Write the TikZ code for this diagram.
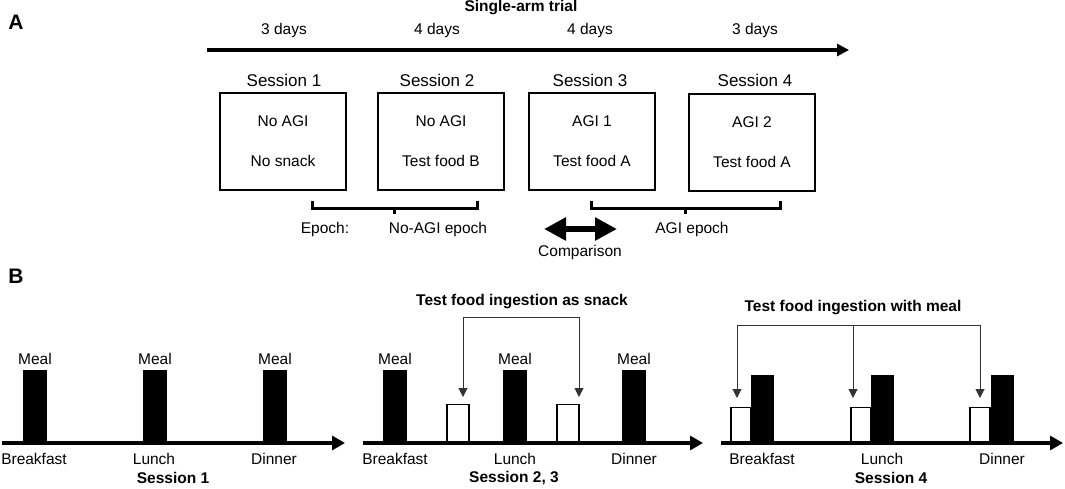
\documentclass[tikz,border=0pt]{standalone}
\usepackage{fontspec}
\setmainfont{Liberation Sans}
\usetikzlibrary{arrows.meta}
\tikzset{
  txt/.style={inner sep=0pt, font=\fontsize{15.5}{18}\selectfont},
  boldtxt/.style={inner sep=0pt, font=\fontsize{15.5}{18}\selectfont\bfseries},
  panel/.style={inner sep=0pt, font=\fontsize{21}{24}\selectfont\bfseries},
  sesslbl/.style={inner sep=0pt, font=\fontsize{17}{20}\selectfont},
  sessbox/.style={draw, line width=1.2pt, minimum width=126pt, minimum height=97pt,
    inner sep=0pt, align=center, font=\fontsize{15.5}{18}\selectfont},
  bracket/.style={line width=3pt},
  timeline/.style={line width=3.5pt, -{Triangle[length=12pt,width=12pt]}},
  dayline/.style={line width=3.5pt, -{Triangle[length=13pt,width=14pt]}},
  mealbar/.style={draw, fill=black, line width=1pt, minimum width=23pt, inner sep=0pt, anchor=south},
  snackbox/.style={draw, fill=white, line width=1.5pt, minimum width=22pt, inner sep=0pt, anchor=south},
  pointer/.style={draw=black!80, line width=1pt, -{Triangle[length=9pt,width=9pt]}}
}
\begin{document}
\begin{tikzpicture}[x=1pt,y=-1pt]
    \useasboundingbox (0,0) rectangle (1065,488);
    % Panel A
    \node[panel] (pa) at (16,22) {A};
    \node[boldtxt] (trial) at (521,8) {Single-arm trial};
    \coordinate (tstart) at (207,50);
    \coordinate (tend) at (849,50);
    \draw[timeline] (tstart) -- (tend);
    \foreach \x/\d/\n in {284/3/1,437/4/2,590/4/3,755/3/4} {
      \node[txt] (day\n) at (\x,30) {\d\ days};
      \node[sesslbl] (lbl\n) at (\x,80) {Session \n};
    }
    % Sessions
    \node[sessbox] (s1) at (283,141.5) {No AGI\\[22pt]No snack};
    \node[sessbox] (s2) at (441,141.5) {No AGI\\[22pt]Test food B};
    \node[sessbox] (s3) at (592,141.5) {AGI 1\\[22pt]Test food A};
    \node[sessbox] (s4) at (752,142.5) {AGI 2\\[22pt]Test food A};
    % Epochs
    \coordinate (e1l) at (312,201);
    \coordinate (e1r) at (477,201);
    \coordinate (e1m) at (394,208);
    \coordinate (e2l) at (591,201);
    \coordinate (e2r) at (780,201);
    \coordinate (e2m) at (685,208);
    \draw[bracket] (e1l) -- (312,208) -- (477,208) -- (e1r);
    \draw[bracket] (e1m) -- (394,214);
    \draw[bracket] (e2l) -- (591,208) -- (780,208) -- (e2r);
    \draw[bracket] (e2m) -- (685,214);
    \node[txt] (epoch) at (325,229) {Epoch:};
    \node[txt] (noagi) at (438,229) {No-AGI epoch};
    \node[txt] (agi) at (692,229) {AGI epoch};
    \coordinate (cl) at (544,229);
    \coordinate (cr) at (617,229);
    \draw[line width=6pt, {Triangle[length=22pt,width=22pt]}-{Triangle[length=22pt,width=22pt]}] (cl) -- (cr);
    \node[txt] (comp) at (580,252) {Comparison};
    % Panel B
    \node[panel] (pb) at (16,276) {B};
    % Session 1
    \foreach \x/\m/\n in {35/Breakfast/a,155/Lunch/b,275/Dinner/c} {
      \node[mealbar, minimum height=72pt] (ma\n) at (\x,443) {};
      \node[txt] at (\x,359) {Meal};
      \node[txt] (da\n) at (\x-1,459) {\m};
    }
    \draw[dayline] (2,443) -- (345,443);
    \node[boldtxt] (sess1) at (173,478) {Session 1};
    % Session 2, 3
    \foreach \x/\m/\n in {395/Breakfast/a,515/Lunch/b,634/Dinner/c} {
      \node[mealbar, minimum height=72pt] (mb\n) at (\x,443) {};
      \node[txt] at (\x,359) {Meal};
      \node[txt] (db\n) at (\x,459) {\m};
    }
    \node[snackbox, minimum height=38pt] (sa) at (458,443) {};
    \node[snackbox, minimum height=38pt] (sb) at (568,443) {};
    \draw[dayline] (363,443) -- (703,443);
    \node[boldtxt] (snack) at (522,302) {Test food ingestion as snack};
    \coordinate (ta) at (463,397);
    \coordinate (tb) at (579,397);
    \draw[pointer] (463,317) -- (ta);
    \draw[pointer] (463,317) -- (579,317) -- (tb);
    \node[boldtxt] (sess23) at (514,478) {Session 2, 3};
    % Session 4
    \foreach \x/\w/\m/\n in {762/741/Breakfast/a,882/861/Lunch/b,1002/980/Dinner/c} {
      \node[snackbox, minimum width=20pt, minimum height=35pt] (w\n) at (\w,443) {};
      \node[mealbar, minimum width=22pt, minimum height=67pt] (mc\n) at (\x,443) {};
      \node[txt] (dc\n) at (\x,459) {\m};
    }
    \draw[dayline] (721,443) -- (1063,443);
    \node[boldtxt] (withmeal) at (853,308) {Test food ingestion with meal};
    \coordinate (ua) at (737,398);
    \coordinate (ub) at (853,398);
    \coordinate (uc) at (980,398);
    \draw[pointer] (737,325) -- (ua);
    \draw[pointer] (853,325) -- (ub);
    \draw[pointer] (737,325) -- (980,325) -- (uc);
    \node[boldtxt] (sess4) at (891,478) {Session 4};
\end{tikzpicture}
\end{document}
